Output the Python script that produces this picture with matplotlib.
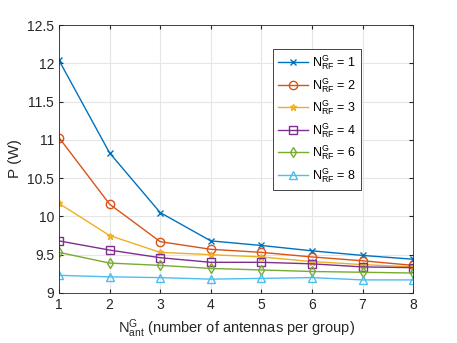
import numpy as np
import matplotlib.pyplot as plt

plt.rcParams['font.family'] = ['Liberation Sans', 'DejaVu Sans']
plt.rcParams['mathtext.fontset'] = 'custom'
plt.rcParams['mathtext.rm'] = 'Liberation Sans'
plt.rcParams['mathtext.it'] = 'Liberation Sans'

n_ant = [1, 2, 3, 4, 5, 6, 7, 8]
n_rf = [1, 2, 3, 4, 6, 8]
p_rf1 = [12.04, 10.83, 10.05, 9.68, 9.62, 9.55, 9.49, 9.44]
p_rf2 = [11.03, 10.16, 9.67, 9.57, 9.53, 9.47, 9.42, 9.36]
p_rf3 = [10.17, 9.75, 9.53, 9.50, 9.47, 9.41, 9.37, 9.34]
p_rf4 = [9.68, 9.56, 9.46, 9.40, 9.40, 9.38, 9.34, 9.33]
p_rf6 = [9.53, 9.39, 9.36, 9.32, 9.30, 9.28, 9.27, 9.26]
p_rf8 = [9.23, 9.21, 9.20, 9.18, 9.19, 9.20, 9.17, 9.17]
series = [p_rf1, p_rf2, p_rf3, p_rf4, p_rf6, p_rf8]

colors = ['#0072BD', '#D95319', '#EDB120', '#7E2F8E', '#77AC30', '#4DBEEE']
markers = ['x', 'o', '*', 's', 'd', '^']
msizes = [4, 6, 5, 5.5, 5.5, 6]

fig = plt.figure(figsize=(4.57, 3.43), dpi=100)
ax = fig.add_axes([0.129, 0.146, 0.775, 0.781])

for vals, k, c, m, ms in zip(series, n_rf, colors, markers, msizes):
    ax.plot(n_ant, vals, color=c, marker=m, markersize=ms, mfc='none',
            linewidth=1.0, label=r'$\mathregular{N_{RF}^{G}}$ = %d' % k)

ax.set_xlim(1, 8)
ax.set_ylim(9, 12.5)
ax.set_xticks(n_ant)
ax.set_yticks(np.arange(9, 12.51, 0.5))
ax.set_yticklabels(['9', '9.5', '10', '10.5', '11', '11.5', '12', '12.5'])
ax.grid(True, color='#e6e6e6', linewidth=0.8)
ax.set_axisbelow(True)
ax.tick_params(direction='in', top=True, right=True, labelsize=10, length=3,
               color='#262626', labelcolor='#262626')
for s in ax.spines.values():
    s.set_color('#262626')
    s.set_linewidth(0.6)

ax.set_xlabel(r'$\mathregular{N_{ant}^{G}}$ (number of antennas per group)', fontsize=10.5, color='#262626')
ax.set_ylabel('P (W)', fontsize=11, color='#262626')

leg = ax.legend(loc='upper left', bbox_to_anchor=(0.605, 0.912), fontsize=9,
                fancybox=False, edgecolor='#262626', framealpha=1,
                handlelength=2.4, handletextpad=0.3, labelspacing=0.3,
                borderpad=0.4, borderaxespad=0)
leg.get_frame().set_linewidth(0.6)

fig.savefig('out.png', dpi=100)
